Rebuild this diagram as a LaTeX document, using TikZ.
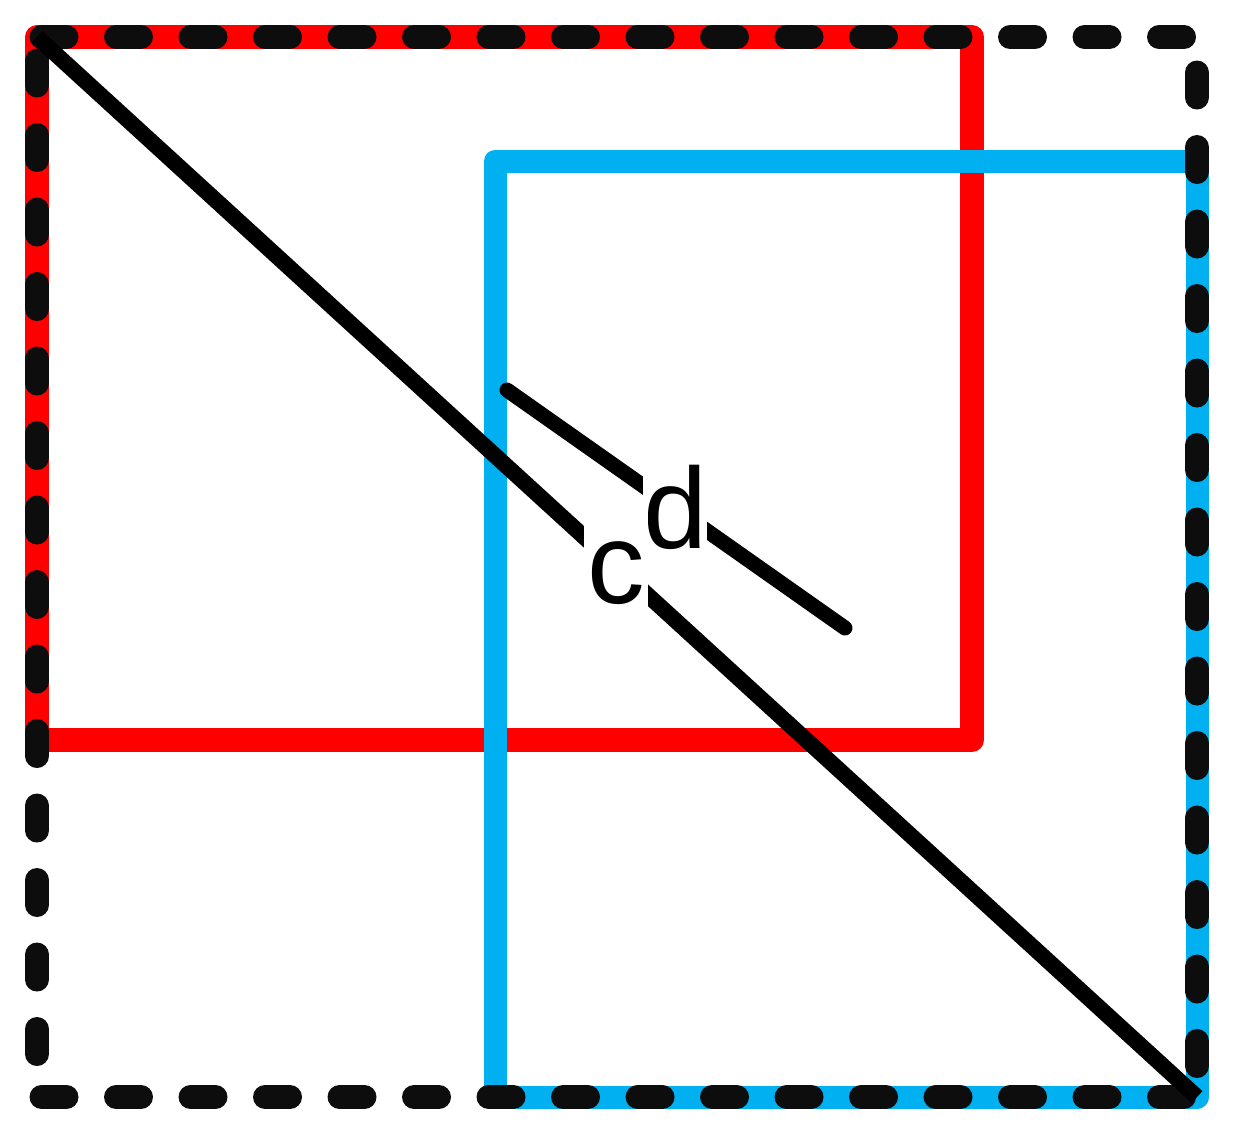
\documentclass[tikz,border=0pt]{standalone}
\usepackage{fontspec}
\setmainfont{Liberation Sans}
\usetikzlibrary{calc}
\definecolor{redline}{RGB}{255,0,0}
\definecolor{blueline}{RGB}{0,176,240}
\definecolor{dashblack}{RGB}{13,13,13}
\begin{document}
\begin{tikzpicture}[x=1pt,y=-1pt,
  redbox/.style={draw=redline,line width=24pt,line join=round},
  bluebox/.style={draw=blueline,line width=23pt,line join=round},
  outline/.style={draw=dashblack,line width=24pt,line cap=round,dash pattern=on 25pt off 49.5pt},
  diag/.style={draw=black,line width=16pt},
  lbl/.style={fill=white,font=\fontsize{115}{115}\selectfont,anchor=base,inner ysep=5pt,text height=86pt,text depth=0pt}]
\useasboundingbox (0,0) rectangle (1233,1128);
% corners
\coordinate (tl) at (37,37);
\coordinate (tr) at (1197,37);
\coordinate (bl) at (37,1097);
\coordinate (br) at (1197,1097);
\coordinate (rbr) at (972,740);
\coordinate (btl) at (495,161);
\coordinate (d1) at (507,390);
\coordinate (d2) at (845,628);
% red rectangle
\draw[redbox] (tl) rectangle (rbr);
% blue rectangle
\draw[bluebox] (btl) rectangle (br);
% dashed outer rectangle
\draw[outline,dash phase=70pt] (tl) -- (tr);
\draw[outline,dash phase=70pt] (bl) -- (br);
\draw[outline,dash phase=51pt] (tl) -- (bl);
\draw[outline,dash phase=39pt] (tr) -- (br);
% diagonals
\draw[diag] (tl) -- (br);
\draw[diag,line width=15pt,line cap=round] (d1) -- (d2);
% labels
\node[lbl,inner xsep=0pt] (d) at (675,548) {d};
\node[lbl,inner xsep=3.5pt] (c) at (616,603) {c};
\end{tikzpicture}
\end{document}
